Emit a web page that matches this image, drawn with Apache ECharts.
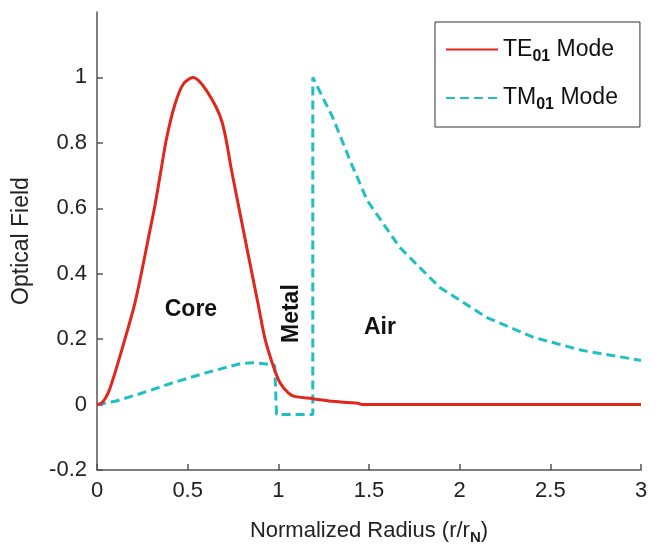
<!DOCTYPE html>
<html>
<head>
<meta charset="utf-8">
<script src="https://cdn.jsdelivr.net/npm/echarts@6/dist/echarts.min.js"></script>
<style>
  html, body { margin: 0; padding: 0; background: #fff; }
  #chart { width: 659px; height: 558px; }
</style>
</head>
<body>
<div id="chart"></div>
<script>
  // TE01 mode (solid red)
  var teX = [0, 0.026, 0.062, 0.099, 0.154, 0.206, 0.246, 0.283, 0.32, 0.352, 0.384, 0.43, 0.476, 0.53, 0.605, 0.688, 0.743, 0.816, 0.89, 0.927, 0.972, 1.009, 1.055, 1.09, 1.19, 1.3, 1.38, 1.44, 1.46, 2, 2.5, 3];
  var teY = [0, 0.005, 0.036, 0.097, 0.2, 0.303, 0.405, 0.508, 0.61, 0.713, 0.815, 0.918, 0.98, 1.0, 0.959, 0.867, 0.713, 0.508, 0.303, 0.2, 0.118, 0.067, 0.036, 0.025, 0.018, 0.01, 0.006, 0.004, 0, 0, 0, 0];

  // TM01 mode (dashed cyan)
  var tmX = [0, 0.1, 0.237, 0.42, 0.6, 0.79, 0.86, 0.92, 0.98, 0.99, 0.99, 1.19, 1.19, 1.2, 1.3, 1.4, 1.49, 1.67, 1.89, 2.15, 2.41, 2.68, 3.0];
  var tmY = [0, 0.01, 0.033, 0.067, 0.097, 0.125, 0.128, 0.125, 0.12, 0.115, -0.03, -0.03, 1.0, 1.0, 0.878, 0.74, 0.624, 0.48, 0.358, 0.266, 0.205, 0.165, 0.135];

  var yTicks = [-0.2, 0, 0.2, 0.4, 0.6, 0.8, 1];
  var xTicks = [0, 0.5, 1, 1.5, 2, 2.5, 3];

  var regions = [
    { text: 'Core', x: 0.518, y: 0.29, rotate: 0 },
    { text: 'Metal', x: 1.075, y: 0.278, rotate: 90 },
    { text: 'Air', x: 1.56, y: 0.235, rotate: 0 }
  ];

  function pairs(xs, ys) {
    return xs.map(function (x, i) { return [x, ys[i]]; });
  }

  var font = "'Liberation Sans', Arial, sans-serif";
  var axisColor = '#555';

  var option = {
    animation: false,
    backgroundColor: '#fff',
    grid: { left: 97, right: 18, top: 12, bottom: 88 },
    legend: {
      orient: 'vertical',
      left: 435,
      top: 22,
      padding: [16, 22, 14, 10],
      itemGap: 22,
      itemWidth: 52,
      itemHeight: 14,
      borderColor: '#333',
      borderWidth: 1,
      backgroundColor: '#fff',
      itemStyle: { opacity: 0 },
      data: ['TE01', 'TM01'],
      formatter: function (name) {
        return '{a|' + name.slice(0, 2) + '}{s|01}{a| Mode}';
      },
      textStyle: {
        fontFamily: font,
        color: '#111',
        rich: {
          a: { fontSize: 23, fontFamily: font, color: '#111' },
          s: { fontSize: 16, fontFamily: font, color: '#111', fontWeight: 'bold', padding: [14, 0, 0, 0] }
        }
      }
    },
    xAxis: {
      type: 'value',
      min: 0,
      max: 3,
      interval: 0.5,
      name: 'Normalized Radius (r/r{s|N})',
      nameLocation: 'middle',
      nameGap: 46,
      nameTextStyle: {
        fontSize: 22, fontFamily: font, color: '#222',
        rich: { s: { fontSize: 15, fontFamily: font, fontWeight: 'bold', color: '#222', padding: [14, 0, 0, 0] } }
      },
      axisLine: { onZero: false, lineStyle: { color: axisColor, width: 1.5 } },
      axisTick: { inside: true, length: 6, lineStyle: { color: axisColor, width: 1.5 } },
      axisLabel: { fontSize: 22, fontFamily: font, color: '#222', margin: 10,
        customValues: xTicks },
      splitLine: { show: false }
    },
    yAxis: {
      type: 'value',
      min: -0.2,
      max: 1.2,
      name: 'Optical Field',
      nameLocation: 'middle',
      nameGap: 64,
      nameTextStyle: { fontSize: 23, fontFamily: font, color: '#222' },
      axisLine: { show: true, onZero: false, lineStyle: { color: axisColor, width: 1.5 } },
      axisTick: { show: true, inside: true, length: 6, lineStyle: { color: axisColor, width: 1.5 },
        customValues: yTicks },
      axisLabel: { fontSize: 22, fontFamily: font, color: '#222', margin: 10,
        customValues: yTicks },
      splitLine: { show: false }
    },
    series: [
      {
        name: 'TE01',
        type: 'line',
        data: pairs(teX, teY),
        smooth: 0.3,
        symbol: 'none',
        z: 3,
        lineStyle: { color: '#e3261b', width: 3 },
        itemStyle: { color: '#e3261b' }
      },
      {
        name: 'TM01',
        type: 'line',
        data: pairs(tmX, tmY),
        symbol: 'none',
        z: 2,
        lineStyle: { color: '#1fbfc4', width: 3, type: [9, 5] },
        itemStyle: { color: '#1fbfc4' }
      }
    ]
  };

  var chart = echarts.init(document.getElementById('chart'));
  chart.setOption(option);

  // region labels placed in data space
  chart.setOption({
    graphic: regions.map(function (r) {
      var p = chart.convertToPixel({ gridIndex: 0 }, [r.x, r.y]);
      return {
        type: 'text',
        x: p[0],
        y: p[1],
        rotation: r.rotate * Math.PI / 180,
        style: {
          text: r.text,
          fontSize: 23,
          fontWeight: 'bold',
          fontFamily: font,
          fill: '#111',
          align: 'center',
          verticalAlign: 'middle'
        }
      };
    })
  });
</script>
</body>
</html>
